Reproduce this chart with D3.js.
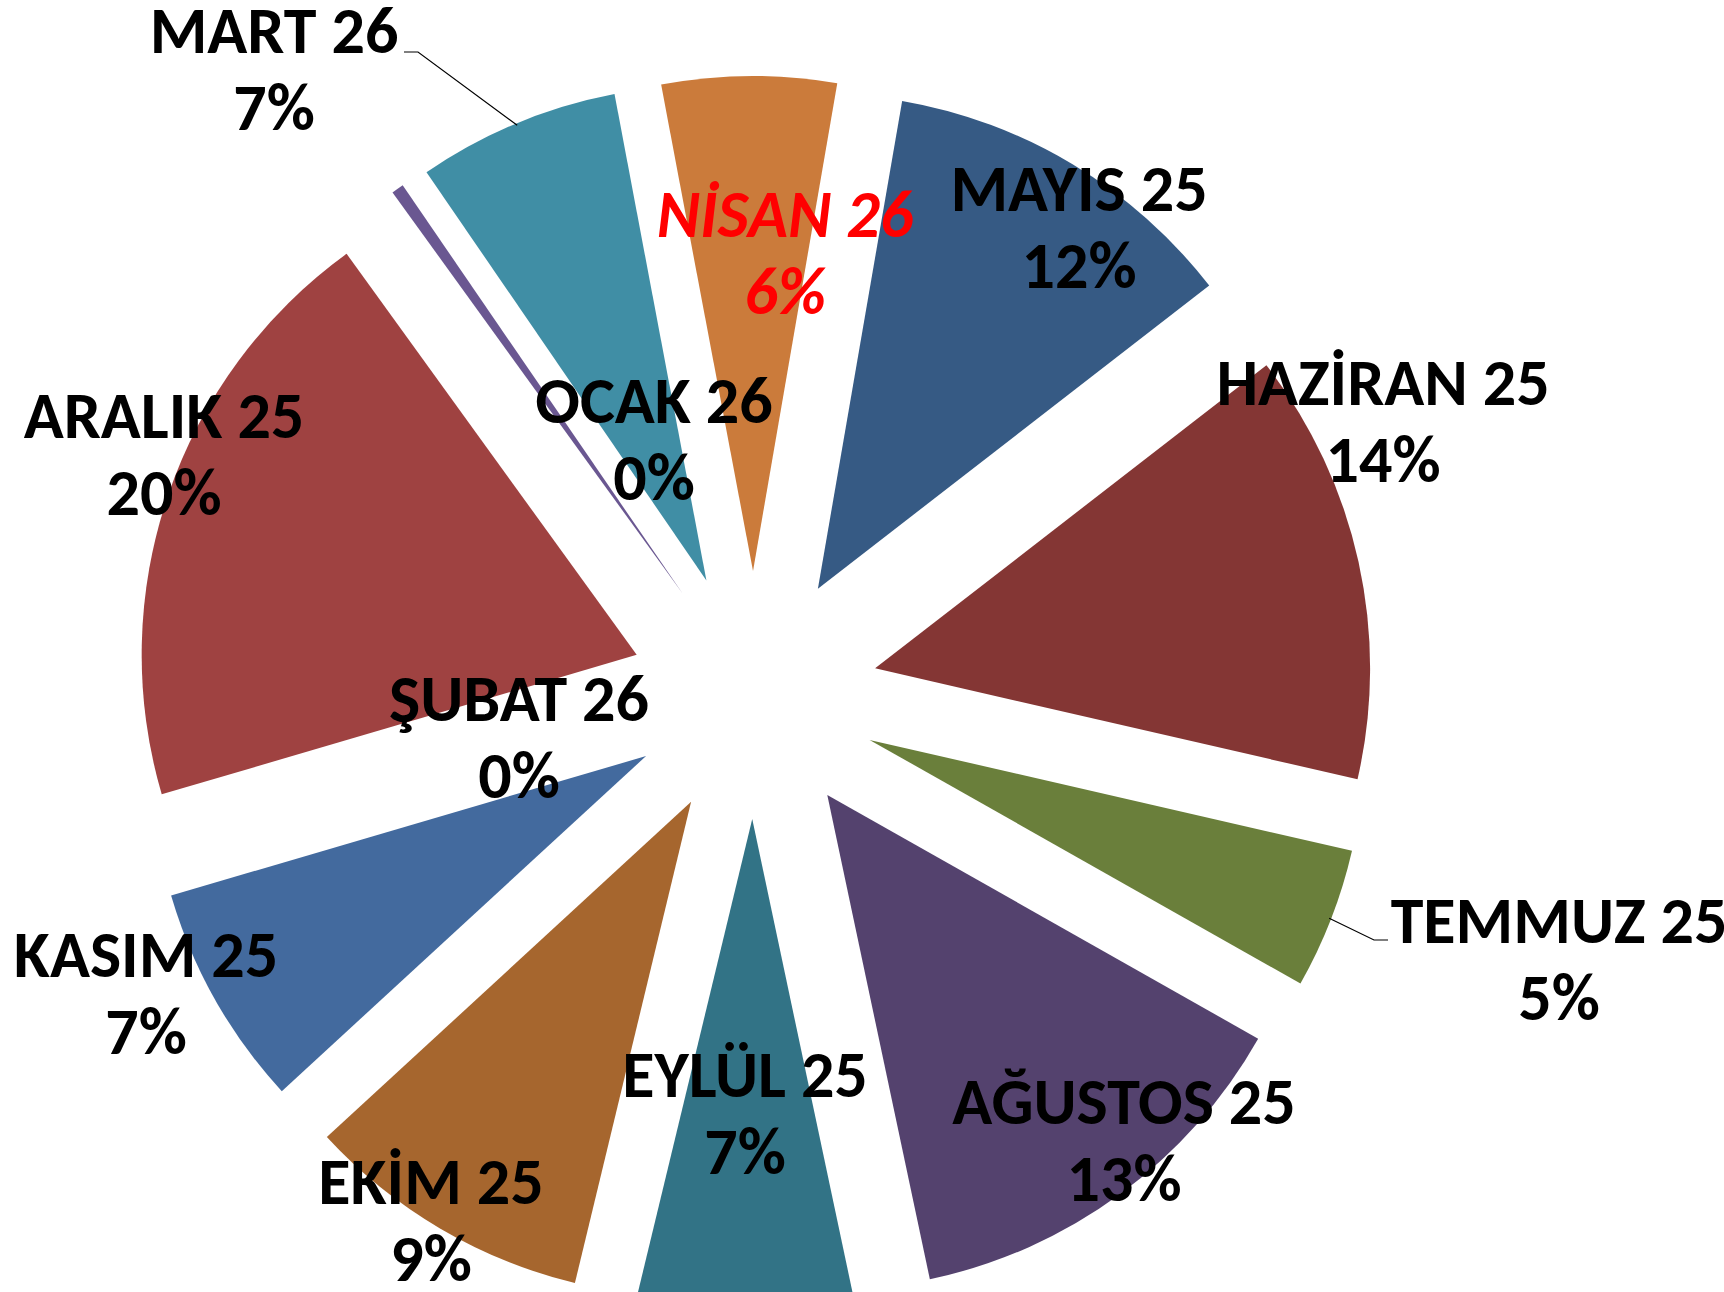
<!DOCTYPE html>
<html>
<head>
<meta charset="utf-8">
<script src="https://cdn.jsdelivr.net/npm/d3@7"></script>
<style>
  body { margin: 0; background: #fff; overflow: hidden; }
  text { font-family: Carlito, Lato, sans-serif; font-weight: bold; }
</style>
</head>
<body>
<script>
var width = 1724,
    height = 1292;

// months, in the order the slices go round (clockwise)
var months = ["MAYIS 25", "HAZİRAN 25", "TEMMUZ 25", "AĞUSTOS 25", "EYLÜL 25", "EKİM 25",
              "KASIM 25", "ARALIK 25", "OCAK 26", "ŞUBAT 26", "MART 26", "NİSAN 26"];
// share of each month (percent)
var shares = [11.8, 14.1, 4.6, 13.5, 7.1, 9.4, 7.3, 19.6, 0, 0.4, 6.6, 5.7];

var colors = ["#365a84", "#843634", "#6a7f3b", "#54426e", "#327386", "#a6662e",
              "#436a9e", "#9f4241", "#7a9a45", "#6a5791", "#408ea5", "#cb7b3b"];

// where the labels were dragged to, relative to the pie centre
var labelOffsets = [[325, -484], [629, -290], [805, 248], [370, 429], [-9, 402], [-323, 509],
                    [-608, 282], [-590, -257], [-100, -272], [-235, 26], [-480, -642], [31, -458]];

var cx = 754, cy = 695,
    radius = 495,
    explode = 124;

var svg = d3.select("body").append("svg")
    .attr("width", width)
    .attr("height", height);

var pie = d3.pie()
    .sort(null)
    .value(d => d)
    .startAngle(9.8 * Math.PI / 180)
    .endAngle(9.8 * Math.PI / 180 + 2 * Math.PI);

var arc = d3.arc()
    .innerRadius(0)
    .outerRadius(radius);

var arcs = pie(shares);
var total = d3.sum(shares);

var g = svg.append("g")
    .attr("transform", "translate(" + cx + "," + cy + ")");

g.selectAll(".slice")
    .data(arcs)
    .enter()
    .append("path")
    .attr("class", "slice")
    .attr("d", arc)
    .attr("fill", (d, i) => colors[i])
    .attr("transform", d => {
        var a = (d.startAngle + d.endAngle) / 2;
        return "translate(" + (explode * Math.sin(a)) + "," + (-explode * Math.cos(a)) + ")";
    });

// leader lines for the labels that sit outside the pie
function leader(i, fromR, elbow) {
    var d = arcs[i];
    var a = (d.startAngle + d.endAngle) / 2;
    var r = explode + fromR;
    var p0 = [r * Math.sin(a), -r * Math.cos(a)];
    g.append("polyline")
        .attr("points", [p0, elbow[0], elbow[1]].map(p => p.join(",")).join(" "))
        .attr("fill", "none")
        .attr("stroke", "#000")
        .attr("stroke-width", 1.2);
}
leader(10, radius - 2, [[-336, -643], [-350, -643]]);
leader(2, radius - 2, [[620, 245], [634, 245]]);

var labels = g.selectAll(".lbl")
    .data(arcs)
    .enter()
    .append("text")
    .attr("class", "lbl")
    .attr("text-anchor", "middle")
    .attr("font-size", 66)
    .attr("fill", (d, i) => i === 11 ? "#ff0000" : "#000")
    .attr("font-style", (d, i) => i === 11 ? "italic" : "normal")
    .attr("transform", (d, i) => "translate(" + labelOffsets[i][0] + "," + labelOffsets[i][1] + ")");

labels.append("tspan")
    .attr("x", 0)
    .attr("y", 0)
    .text((d, i) => months[i]);

labels.append("tspan")
    .attr("x", 0)
    .attr("y", 77)
    .text(d => Math.round(d.data / total * 100) + "%");
</script>
</body>
</html>
